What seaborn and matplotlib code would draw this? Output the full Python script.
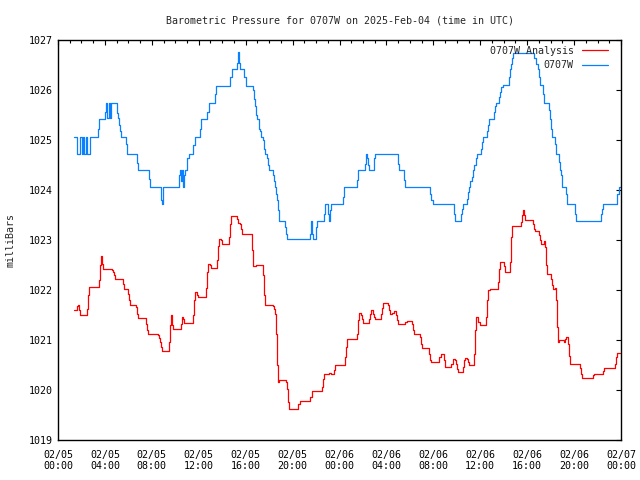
import pandas as pd
import seaborn as sns
import matplotlib
matplotlib.use('Agg')
import matplotlib.pyplot as plt
import matplotlib.dates as mdates

# hours after 2025-02-05 00:00 UTC where the step changes, and the new value (mb)
ana_hours = [1.36, 1.65, 1.73, 1.82, 1.90, 2.50, 2.59, 2.67, 3.52, 3.61, 3.69, 3.78, 3.86,
             4.58, 4.66, 4.75, 4.83, 5.57, 5.66, 6.00, 6.08, 6.17, 6.68, 6.76, 6.85,
             7.53, 7.62, 7.70, 8.55, 8.64, 8.72, 8.81, 8.89, 9.49, 9.58, 9.66, 9.75, 9.83,
             10.51, 10.60, 10.68, 10.77, 11.54, 11.62, 11.71, 11.88, 11.96, 12.59, 12.67,
             12.76, 12.93, 13.01, 13.53, 13.61, 13.70, 13.87, 13.95, 14.55, 14.63, 14.72,
             15.23, 15.32, 15.49, 15.57, 15.66, 16.57, 16.65, 16.91, 17.50, 17.59, 17.67,
             18.36, 18.44, 18.53, 18.61, 18.70, 18.78, 18.87, 19.46, 19.55, 19.63, 19.72,
             20.49, 20.66, 21.51, 21.68, 22.53, 22.62, 22.70, 23.13, 23.30, 23.47, 23.56,
             23.64, 24.49, 24.58, 24.66, 25.52, 25.60, 25.69, 25.86, 25.94, 26.03, 26.54,
             26.62, 26.71, 26.88, 26.97, 27.05, 27.56, 27.65, 27.73, 28.16, 28.24, 28.33,
             28.50, 28.67, 28.84, 28.93, 29.01, 29.61, 29.78, 30.21, 30.29, 30.38, 30.89,
             30.97, 31.06, 31.65, 31.74, 31.83, 32.52, 32.69, 32.94, 33.03, 33.54, 33.71,
             33.88, 33.96, 34.05, 34.13, 34.56, 34.65, 34.73, 34.90, 34.99, 35.07, 35.50,
             35.58, 35.67, 35.84, 36.01, 36.52, 36.61, 36.69, 36.86, 37.54, 37.63, 37.72,
             38.06, 38.14, 38.57, 38.65, 38.74, 39.51, 39.59, 39.68, 39.76, 39.85, 40.53,
             40.61, 40.70, 41.04, 41.13, 41.21, 41.47, 41.55, 41.64, 41.72, 42.06, 42.15,
             42.23, 42.40, 42.49, 42.57, 42.66, 42.75, 43.17, 43.26, 43.34, 43.51, 43.60,
             43.68, 44.54, 44.62, 44.71, 45.64, 45.73, 46.50, 46.58, 47.52, 47.61, 47.69,
             47.95]
ana_mb = [1021.60, 1021.68, 1021.71, 1021.60, 1021.50, 1021.63, 1021.91, 1022.07, 1022.21,
          1022.51, 1022.68, 1022.53, 1022.42, 1022.40, 1022.37, 1022.30, 1022.22, 1022.13,
          1022.03, 1021.93, 1021.81, 1021.71, 1021.67, 1021.53, 1021.44, 1021.32, 1021.20,
          1021.13, 1021.10, 1021.05, 1020.97, 1020.87, 1020.78, 1020.97, 1021.30, 1021.50,
          1021.30, 1021.22, 1021.33, 1021.47, 1021.42, 1021.35, 1021.50, 1021.80, 1021.96,
          1021.91, 1021.87, 1022.05, 1022.37, 1022.53, 1022.50, 1022.45, 1022.60, 1022.88,
          1023.03, 1023.01, 1022.92, 1023.07, 1023.33, 1023.48, 1023.43, 1023.35, 1023.32,
          1023.23, 1023.13, 1022.80, 1022.48, 1022.50, 1022.30, 1021.90, 1021.71, 1021.68,
          1021.63, 1021.53, 1021.13, 1020.50, 1020.17, 1020.21, 1020.17, 1020.03, 1019.77,
          1019.63, 1019.73, 1019.79, 1019.87, 1019.99, 1020.07, 1020.23, 1020.33, 1020.34,
          1020.32, 1020.33, 1020.40, 1020.51, 1020.67, 1020.87, 1021.02, 1021.13, 1021.40,
          1021.55, 1021.50, 1021.43, 1021.35, 1021.42, 1021.53, 1021.60, 1021.53, 1021.47,
          1021.42, 1021.53, 1021.65, 1021.75, 1021.71, 1021.60, 1021.53, 1021.55, 1021.58,
          1021.51, 1021.40, 1021.33, 1021.36, 1021.38, 1021.33, 1021.20, 1021.13, 1021.07,
          1020.93, 1020.85, 1020.73, 1020.60, 1020.57, 1020.67, 1020.73, 1020.60, 1020.46,
          1020.53, 1020.63, 1020.60, 1020.53, 1020.43, 1020.36, 1020.47, 1020.60, 1020.65,
          1020.63, 1020.57, 1020.50, 1020.73, 1021.21, 1021.47, 1021.37, 1021.30, 1021.47,
          1021.80, 1022.00, 1022.03, 1022.17, 1022.43, 1022.57, 1022.49, 1022.37, 1022.57,
          1023.07, 1023.29, 1023.37, 1023.50, 1023.61, 1023.50, 1023.41, 1023.33, 1023.23,
          1023.19, 1023.10, 1023.00, 1022.93, 1022.99, 1022.87, 1022.50, 1022.32, 1022.23,
          1022.10, 1022.03, 1022.05, 1021.80, 1021.27, 1020.97, 1021.01, 1020.97, 1021.03,
          1021.07, 1020.93, 1020.68, 1020.53, 1020.45, 1020.33, 1020.25, 1020.30, 1020.32,
          1020.39, 1020.45, 1020.53, 1020.67, 1020.75, 1020.75]

obs_hours = [1.36, 1.59, 1.90, 2.02, 2.10, 2.22, 2.36, 2.47, 2.73, 3.41, 3.52, 4.04, 4.12,
             4.21, 4.32, 4.40, 4.55, 5.06, 5.14, 5.23, 5.31, 5.40, 5.83, 5.91, 6.76, 6.85,
             7.73, 7.84, 8.75, 8.81, 8.89, 8.98, 10.34, 10.43, 10.51, 10.60, 10.68, 10.77,
             10.85, 11.03, 11.20, 11.54, 11.71, 12.13, 12.22, 12.73, 12.90, 13.36, 13.50,
             14.69, 14.83, 15.26, 15.35, 15.43, 15.52, 15.86, 16.05, 16.65, 16.74, 16.82,
             16.91, 16.99, 17.16, 17.25, 17.33, 17.50, 17.59, 17.67, 17.84, 17.93, 18.01,
             18.36, 18.44, 18.53, 18.61, 18.70, 18.78, 18.87, 19.38, 19.46, 19.55, 21.51,
             21.59, 21.68, 21.77, 22.02, 22.11, 22.70, 22.79, 23.04, 23.13, 23.21, 23.30,
             24.32, 24.41, 25.52, 25.60, 26.20, 26.28, 26.37, 26.45, 26.54, 26.97, 27.05,
             29.01, 29.10, 29.52, 29.61, 31.74, 31.83, 32.00, 33.74, 33.82, 34.39, 34.48,
             34.56, 34.90, 34.99, 35.07, 35.16, 35.33, 35.41, 35.50, 35.67, 35.75, 36.10,
             36.18, 36.27, 36.61, 36.69, 36.78, 37.20, 37.29, 37.37, 37.63, 37.72, 37.80,
             37.97, 38.48, 38.57, 38.65, 38.74, 38.82, 40.56, 40.73, 40.90, 40.98, 41.07,
             41.32, 41.41, 41.84, 41.92, 42.01, 42.09, 42.35, 42.43, 42.69, 42.77, 42.86,
             42.94, 43.29, 43.37, 44.11, 44.19, 46.33, 46.41, 46.50, 47.69, 47.85, 48.00]
obs_mb = [1025.07, 1024.73, 1025.07, 1024.73, 1025.07, 1024.73, 1025.07, 1024.73, 1025.07,
          1025.23, 1025.41, 1025.57, 1025.75, 1025.45, 1025.75, 1025.45, 1025.75, 1025.55,
          1025.45, 1025.30, 1025.17, 1025.07, 1024.93, 1024.73, 1024.55, 1024.40, 1024.23,
          1024.06, 1023.93, 1023.80, 1023.72, 1024.06, 1024.30, 1024.40, 1024.17, 1024.40,
          1024.06, 1024.30, 1024.40, 1024.63, 1024.73, 1024.90, 1025.07, 1025.23, 1025.41,
          1025.57, 1025.75, 1025.93, 1026.08, 1026.27, 1026.42, 1026.55, 1026.76, 1026.55,
          1026.42, 1026.27, 1026.08, 1026.00, 1025.83, 1025.67, 1025.50, 1025.41, 1025.23,
          1025.17, 1025.07, 1025.00, 1024.83, 1024.73, 1024.63, 1024.50, 1024.40, 1024.30,
          1024.17, 1024.06, 1023.93, 1023.80, 1023.60, 1023.38, 1023.27, 1023.13, 1023.03,
          1023.13, 1023.38, 1023.13, 1023.03, 1023.27, 1023.38, 1023.53, 1023.72, 1023.53,
          1023.38, 1023.60, 1023.72, 1023.87, 1024.06, 1024.20, 1024.40, 1024.53, 1024.73,
          1024.63, 1024.50, 1024.40, 1024.63, 1024.73, 1024.53, 1024.40, 1024.20, 1024.06,
          1023.93, 1023.80, 1023.72, 1023.53, 1023.38, 1023.53, 1023.63, 1023.72, 1023.83,
          1023.97, 1024.06, 1024.17, 1024.27, 1024.40, 1024.50, 1024.63, 1024.73, 1024.83,
          1024.97, 1025.07, 1025.17, 1025.30, 1025.41, 1025.57, 1025.67, 1025.75, 1025.87,
          1025.97, 1026.07, 1026.10, 1026.27, 1026.41, 1026.53, 1026.63, 1026.75, 1026.63,
          1026.53, 1026.41, 1026.27, 1026.10, 1025.93, 1025.75, 1025.60, 1025.41, 1025.23,
          1025.07, 1024.93, 1024.73, 1024.57, 1024.40, 1024.30, 1024.06, 1023.93, 1023.72,
          1023.53, 1023.38, 1023.53, 1023.63, 1023.72, 1023.93, 1024.06, 1024.06]

start = pd.Timestamp('2025-02-05 00:00')
ana = pd.DataFrame({'time': start + pd.to_timedelta(ana_hours, unit='h'), 'mb': ana_mb})
obs = pd.DataFrame({'time': start + pd.to_timedelta(obs_hours, unit='h'), 'mb': obs_mb})

sns.set_style('white')
plt.rcParams['font.family'] = ['DejaVu Sans Mono', 'DejaVu Sans']
plt.rcParams['font.size'] = 7.2

fig = plt.figure(figsize=(6.4, 4.8), dpi=100)
ax = fig.add_axes([58 / 640, 40 / 480, 563 / 640, 400 / 480])

sns.lineplot(data=ana, x='time', y='mb', ax=ax, color='#ff0000', lw=0.9,
             drawstyle='steps-post', estimator=None, label='0707W Analysis')
sns.lineplot(data=obs, x='time', y='mb', ax=ax, color='#0a80ff', lw=0.9,
             drawstyle='steps-post', estimator=None, label='0707W')

ax.set_xlim(start, start + pd.Timedelta(hours=48))
ax.set_ylim(1019, 1027)
ax.set_yticks(range(1019, 1028))
ax.xaxis.set_major_locator(mdates.HourLocator(byhour=range(0, 24, 4)))
ax.xaxis.set_minor_locator(mdates.HourLocator())
ax.xaxis.set_major_formatter(mdates.DateFormatter('%m/%d\n%H:%M'))
ax.tick_params(which='both', direction='in', top=True, right=True, colors='black',
               labelsize=7.2, width=0.8)
ax.tick_params(which='major', length=3.6, pad=4)
ax.tick_params(which='minor', length=2.2)
ax.tick_params(axis='x', pad=7)

for s in ax.spines.values():
    s.set_color('black')
    s.set_linewidth(1.0)

ax.set_xlabel('')
ax.set_ylabel('milliBars', labelpad=9)
ax.set_title('Barometric Pressure for 0707W on 2025-Feb-04 (time in UTC)', pad=12, fontsize=7.2)

ax.legend(loc='upper right', bbox_to_anchor=(0.989, 1.003), markerfirst=False, frameon=False,
          fontsize=7.2, handlelength=2.6, handletextpad=0.8, borderaxespad=0.3,
          labelspacing=0.45)

fig.savefig('out.png', dpi=100)
